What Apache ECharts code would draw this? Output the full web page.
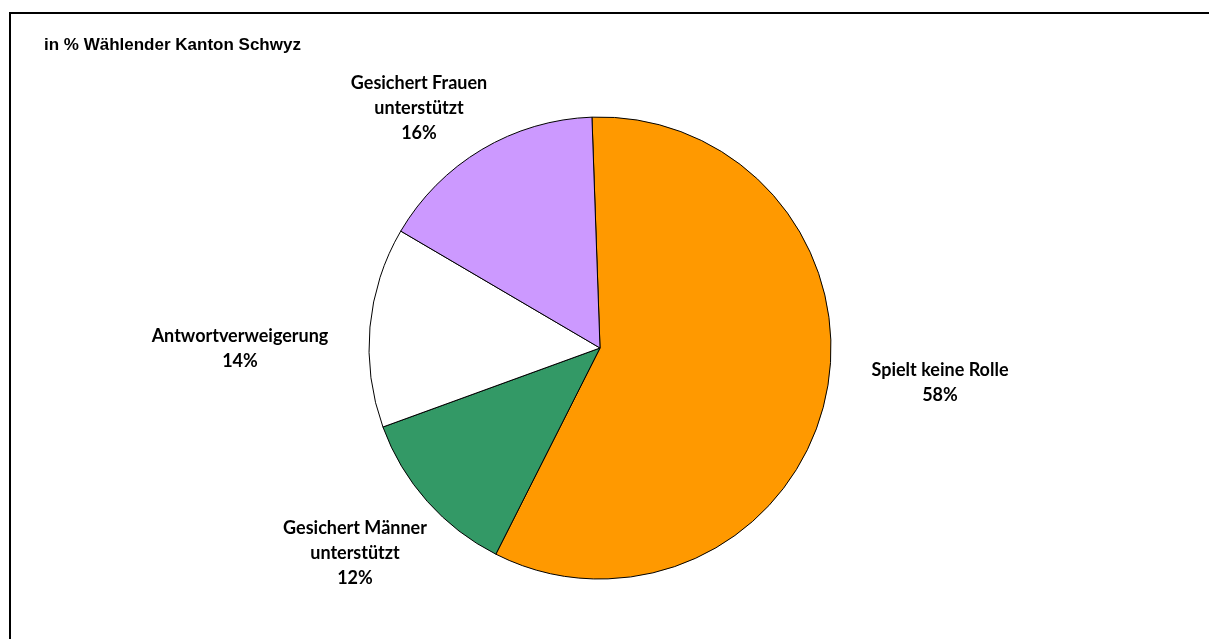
<!DOCTYPE html>
<html>
<head>
<meta charset="utf-8">
<style>
  html, body { margin: 0; padding: 0; background: #fff; }
  #chart { width: 1209px; height: 639px; }
</style>
<script src="https://cdn.jsdelivr.net/npm/echarts@6/dist/echarts.min.js"></script>
</head>
<body>
<div id="chart"></div>
<script>
// Survey answers (percent of voters, canton of Schwyz)
const categories = ['Spielt keine Rolle', 'Gesichert Männer\nunterstützt', 'Antwortverweigerung', 'Gesichert Frauen\nunterstützt'];
const values = [58, 12, 14, 16];
const colors = ['#FF9900', '#339966', '#FFFFFF', '#CC99FF'];

// Anchor points for the slice labels (layout only)
const labelAnchors = [[940, 383], [355, 553], [240, 349], [419, 108]];

const chart = echarts.init(document.getElementById('chart'));
chart.setOption({
  animation: false,
  backgroundColor: '#fff',
  graphic: [{
    type: 'rect',
    shape: { x: 10, y: 13, width: 1220, height: 640 },
    style: { fill: 'none', stroke: '#000', lineWidth: 2 },
    silent: true
  }],
  title: {
    text: 'in % Wählender Kanton Schwyz',
    left: 39, top: 32,
    textStyle: { fontFamily: 'Liberation Sans, Arial, sans-serif', fontSize: 17, fontWeight: 'bold', color: '#000' }
  },
  series: [{
    type: 'pie',
    center: [600, 348],
    radius: 231,
    startAngle: 92,
    clockwise: true,
    silent: true,
    data: categories.map((name, i) => ({
      name, value: values[i],
      itemStyle: { color: colors[i] }
    })),
    itemStyle: { borderColor: '#000', borderWidth: 1 },
    label: {
      show: true,
      position: 'outside',
      formatter: p => p.name + '\n' + p.value + '%',
      fontFamily: 'Lato, "Open Sans", sans-serif',
      fontWeight: 'bold',
      fontSize: 18,
      lineHeight: 25,
      color: '#000',
      align: 'center'
    },
    labelLine: { show: false },
    labelLayout: params => ({
      x: labelAnchors[params.dataIndex][0],
      y: labelAnchors[params.dataIndex][1],
      align: 'center',
      verticalAlign: 'middle'
    })
  }]
});
</script>
</body>
</html>
